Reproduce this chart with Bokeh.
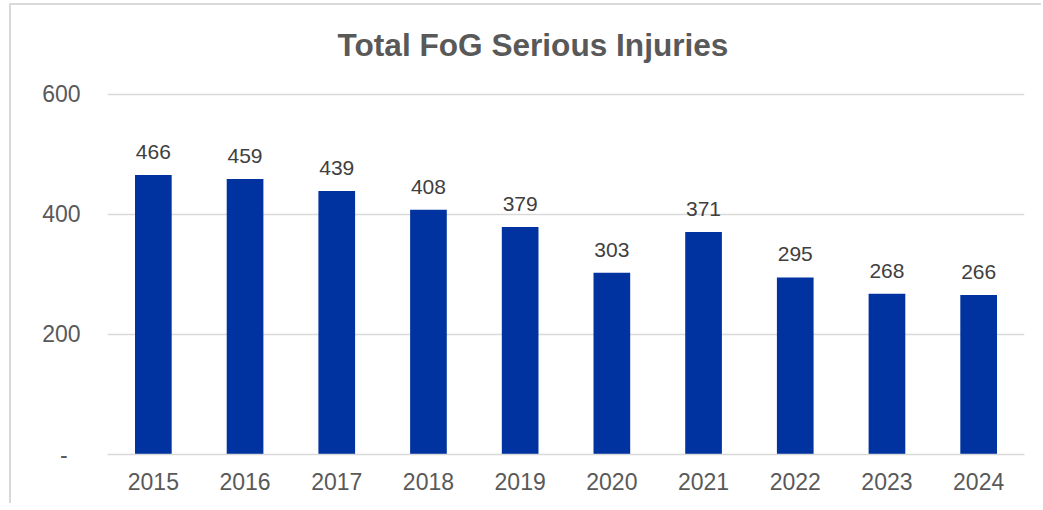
from bokeh.plotting import figure
from bokeh.models import ColumnDataSource, Range1d, FixedTicker, LabelSet, Label
from bokeh.core.properties import value
from bokeh.embed import file_html
from bokeh.resources import INLINE

years = ["2015", "2016", "2017", "2018", "2019", "2020", "2021", "2022", "2023", "2024"]
injuries = [466, 459, 439, 408, 379, 303, 371, 295, 268, 266]
y_ticks = [0, 200, 400, 600]
title_text = "Total FoG Serious Injuries"

source = ColumnDataSource(dict(year=years, value=injuries, label=[str(v) for v in injuries]))

FONT = "Liberation Sans"
GREY = "#595959"

# frame spans the whole height above the x axis so the title can sit inside it
p = figure(x_range=years, y_range=Range1d(0, 748.3), width=1032, height=500,
           output_backend="svg", toolbar_location=None,
           min_border_left=96, min_border_right=19, min_border_top=0, min_border_bottom=51)
p.styles = {"border-left": "2px solid #d9d9d9", "border-top": "2px solid #d9d9d9",
            "margin-top": "3px", "margin-left": "9px"}

p.vbar(x="year", top="value", width=0.4, source=source, color="#0033A0", line_color=None)

labels = LabelSet(x="year", y="value", text="label", source=source, y_offset=16,
                  text_align="center", text_baseline="alphabetic",
                  text_font=value(FONT), text_font_size="21px", text_color="#404040")
p.add_layout(labels)

title = Label(x=4.64, y=683, text=title_text, text_align="center", text_baseline="alphabetic",
              text_font=FONT, text_font_size="31.6px", text_font_style="bold", text_color=GREY)
p.add_layout(title)

p.outline_line_color = None
p.background_fill_color = "white"
p.border_fill_color = "white"

p.xgrid.grid_line_color = None
p.ygrid.grid_line_color = "#d9d9d9"
p.ygrid.grid_line_width = 1.5
p.yaxis.ticker = FixedTicker(ticks=y_ticks)
p.yaxis.major_label_overrides = {0: "-\u00a0\u00a0"}
p.yaxis.axis_line_color = None
p.yaxis.major_tick_line_color = None
p.yaxis.minor_tick_line_color = None
p.yaxis.major_label_standoff = 21
p.xaxis.axis_line_color = "#d9d9d9"
p.xaxis.axis_line_width = 1.5
p.xaxis.major_tick_line_color = None
p.xaxis.minor_tick_line_color = None
p.xaxis.major_label_standoff = 12

for ax in (p.xaxis[0], p.yaxis[0]):
    ax.major_label_text_font = FONT
    ax.major_label_text_font_size = "23px"
    ax.major_label_text_color = GREY

open("out.html", "w").write(file_html(p, INLINE))
